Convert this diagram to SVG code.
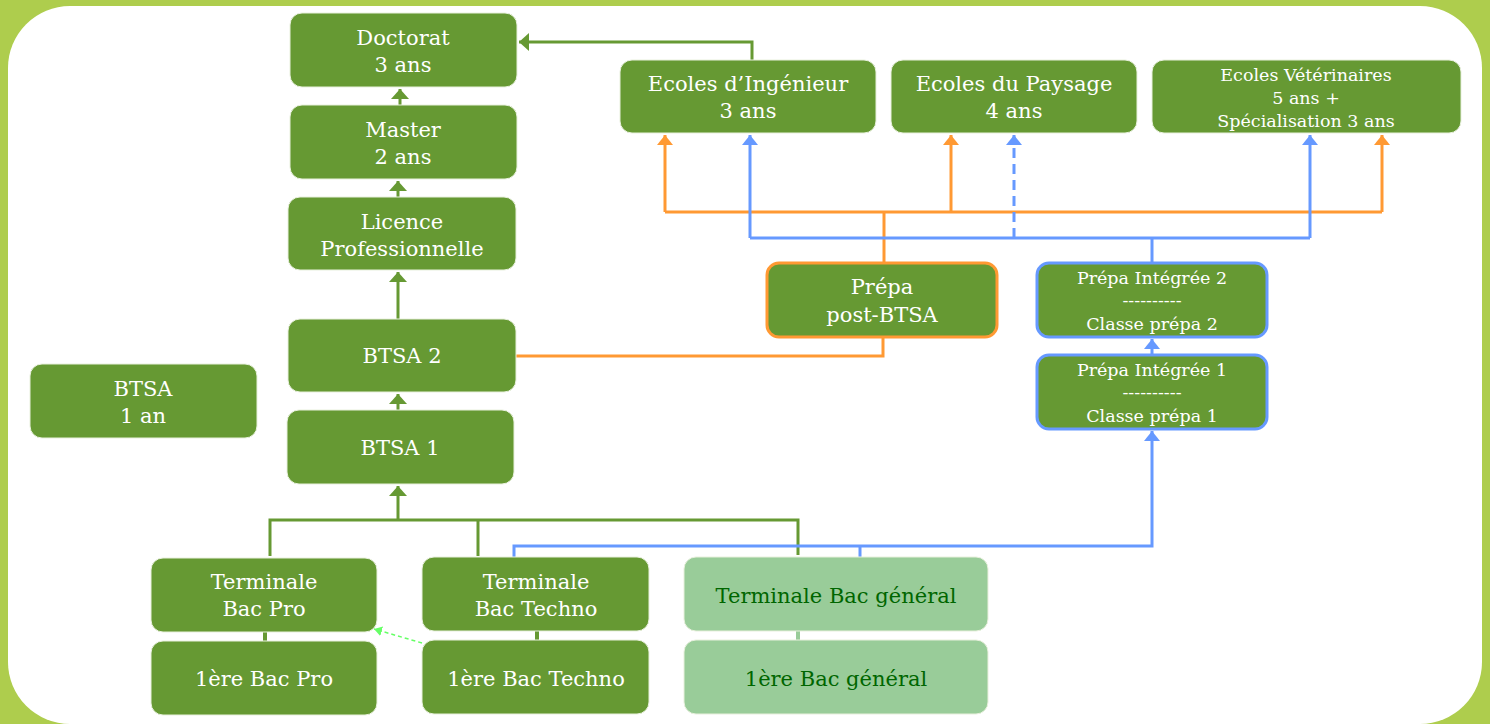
<svg xmlns="http://www.w3.org/2000/svg" width="1490" height="724" viewBox="0 0 1490 724">
<style>
.n{fill:#669933;stroke:#e8f0dd;stroke-width:1}
.lg{fill:#99cc99;stroke:#e8f0dd;stroke-width:1}
.t{font-family:"DejaVu Serif","Liberation Serif",serif;font-size:21px;fill:#ffffff;text-anchor:middle}
.s{font-size:17.5px}
.d{fill:#006600}
.g{stroke:#669933;stroke-width:3;fill:none}
.o{stroke:#ff9933;stroke-width:3;fill:none}
.b{stroke:#6699ff;stroke-width:3;fill:none}
</style>
<defs>
<marker id="ag" markerUnits="userSpaceOnUse" markerWidth="20" markerHeight="12" refX="10" refY="6" orient="auto"><path d="M0,0 L10,6 L0,12 Z" fill="#669933" transform="translate(0,0)"/></marker>
<marker id="ao" markerUnits="userSpaceOnUse" markerWidth="20" markerHeight="20" refX="10" refY="8" orient="auto"><path d="M0,0 L10,8 L0,16 Z" fill="#ff9933"/></marker>
<marker id="ab" markerUnits="userSpaceOnUse" markerWidth="20" markerHeight="20" refX="10" refY="8" orient="auto"><path d="M0,0 L10,8 L0,16 Z" fill="#6699ff"/></marker>
<marker id="agr" markerUnits="userSpaceOnUse" markerWidth="20" markerHeight="20" refX="10" refY="9" orient="auto"><path d="M0,0 L10,9 L0,18 Z" fill="#669933"/></marker>
<marker id="al" markerUnits="userSpaceOnUse" markerWidth="12" markerHeight="12" refX="8" refY="5" orient="auto"><path d="M0,0 L8,5 L0,10 Z" fill="#66ff66"/></marker>
</defs>
<rect x="0" y="0" width="1490" height="724" fill="#aecd4d"/>
<rect x="8" y="6" width="1474" height="718" rx="62" ry="62" fill="#ffffff"/>

<g id="connectors">
  <!-- green vertical chain -->
  <path class="g" d="M400,105 V89" marker-end="url(#agr)"/>
  <path class="g" d="M398,197 V181" marker-end="url(#agr)"/>
  <path class="g" d="M398,319 V272" marker-end="url(#agr)"/>
  <path class="g" d="M398,410 V394" marker-end="url(#agr)"/>
  <path class="g" d="M270,556 V520 H798 V555"/>
  <path class="g" d="M478,520 V556"/>
  <path class="g" d="M398,520 V486" marker-end="url(#agr)"/>
  <path class="g" d="M752,60 V42 H519" marker-end="url(#agr)"/>
  <path d="M265,632 V641" stroke="#669933" stroke-width="4"/>
  <path d="M537,631 V640" stroke="#669933" stroke-width="4"/>
  <path d="M798,631 V640" stroke="#99cc99" stroke-width="4"/>
  <path d="M422,643 L374,629" stroke="#66ff66" stroke-width="1.5" stroke-dasharray="4,3" fill="none" marker-end="url(#al)"/>
  <!-- orange -->
  <path class="o" d="M516,356 H883 V337"/>
  <path class="o" d="M884,262 V212"/>
  <path class="o" d="M665,212 H1382"/>
  <path class="o" d="M665,212 V135" marker-end="url(#ao)"/>
  <path class="o" d="M951,212 V135" marker-end="url(#ao)"/>
  <path class="o" d="M1382,212 V135" marker-end="url(#ao)"/>
  <!-- blue -->
  <path class="b" d="M750,238 H1310"/>
  <path class="b" d="M750,238 V135" marker-end="url(#ab)"/>
  <path class="b" d="M1014,238 V135" stroke-dasharray="10,6" marker-end="url(#ab)"/>
  <path class="b" d="M1310,238 V135" marker-end="url(#ab)"/>
  <path class="b" d="M1152,262 V238"/>
  <path class="b" d="M1152,354 V339" marker-end="url(#ab)"/>
  <path class="b" d="M514,557 V546 H1152 V431" marker-end="url(#ab)"/>
  <path class="b" d="M860,546 V557"/>
</g>

<g id="doctorat"><rect class="n" x="290" y="13" width="227" height="74" rx="12"/><text class="t" x="403" y="45">Doctorat</text><text class="t" x="403" y="72">3 ans</text></g>
<g id="master"><rect class="n" x="290" y="105" width="227" height="74" rx="12"/><text class="t" x="403" y="137">Master</text><text class="t" x="403" y="164">2 ans</text></g>
<g id="licence"><rect class="n" x="288" y="197" width="228" height="73" rx="12"/><text class="t" x="402" y="229">Licence</text><text class="t" x="402" y="256">Professionnelle</text></g>
<g id="btsa2"><rect class="n" x="288" y="319" width="228" height="73" rx="12"/><text class="t" x="402" y="363">BTSA 2</text></g>
<g id="btsa1"><rect class="n" x="287" y="410" width="227" height="74" rx="12"/><text class="t" x="400" y="455">BTSA 1</text></g>
<g id="btsa1an"><rect class="n" x="30" y="364" width="227" height="74" rx="12"/><text class="t" x="143" y="396">BTSA</text><text class="t" x="143" y="423">1 an</text></g>
<g id="ingenieur"><rect class="n" x="620" y="60" width="256" height="73" rx="12"/><text class="t" x="748" y="91">Ecoles d’Ingénieur</text><text class="t" x="748" y="118">3 ans</text></g>
<g id="paysage"><rect class="n" x="891" y="60" width="246" height="73" rx="12"/><text class="t" x="1014" y="91">Ecoles du Paysage</text><text class="t" x="1014" y="118">4 ans</text></g>
<g id="veterinaires"><rect class="n" x="1152" y="60" width="309" height="73" rx="12"/><text class="t s" x="1306" y="81">Ecoles Vétérinaires</text><text class="t s" x="1306" y="104">5 ans +</text><text class="t s" x="1306" y="127">Spécialisation 3 ans</text></g>
<g id="prepa-post-btsa"><rect x="767" y="263" width="230" height="74" rx="12" fill="#669933" stroke="#ff9933" stroke-width="3"/><text class="t" x="882" y="294">Prépa</text><text class="t" x="882" y="322">post-BTSA</text></g>
<g id="prepa-integree-2"><rect x="1037" y="263" width="230" height="74" rx="12" fill="#669933" stroke="#6699ff" stroke-width="3"/><text class="t s" x="1152" y="284">Prépa Intégrée 2</text><text class="t s" x="1152" y="306">----------</text><text class="t s" x="1152" y="330">Classe prépa 2</text></g>
<g id="prepa-integree-1"><rect x="1037" y="355" width="230" height="74" rx="12" fill="#669933" stroke="#6699ff" stroke-width="3"/><text class="t s" x="1152" y="376">Prépa Intégrée 1</text><text class="t s" x="1152" y="398">----------</text><text class="t s" x="1152" y="422">Classe prépa 1</text></g>
<g id="terminale-pro"><rect class="n" x="151" y="558" width="226" height="74" rx="12"/><text class="t" x="264" y="589">Terminale</text><text class="t" x="264" y="616">Bac Pro</text></g>
<g id="terminale-techno"><rect class="n" x="422" y="557" width="227" height="74" rx="12"/><text class="t" x="536" y="589">Terminale</text><text class="t" x="536" y="616">Bac Techno</text></g>
<g id="terminale-general"><rect class="lg" x="684" y="557" width="304" height="74" rx="12"/><text class="t d" x="836" y="603">Terminale Bac général</text></g>
<g id="premiere-pro"><rect class="n" x="151" y="641" width="226" height="74" rx="12"/><text class="t" x="264" y="686">1ère Bac Pro</text></g>
<g id="premiere-techno"><rect class="n" x="422" y="640" width="227" height="74" rx="12"/><text class="t" x="536" y="686">1ère Bac Techno</text></g>
<g id="premiere-general"><rect class="lg" x="684" y="640" width="304" height="74" rx="12"/><text class="t d" x="836" y="686">1ère Bac général</text></g>
</svg>
